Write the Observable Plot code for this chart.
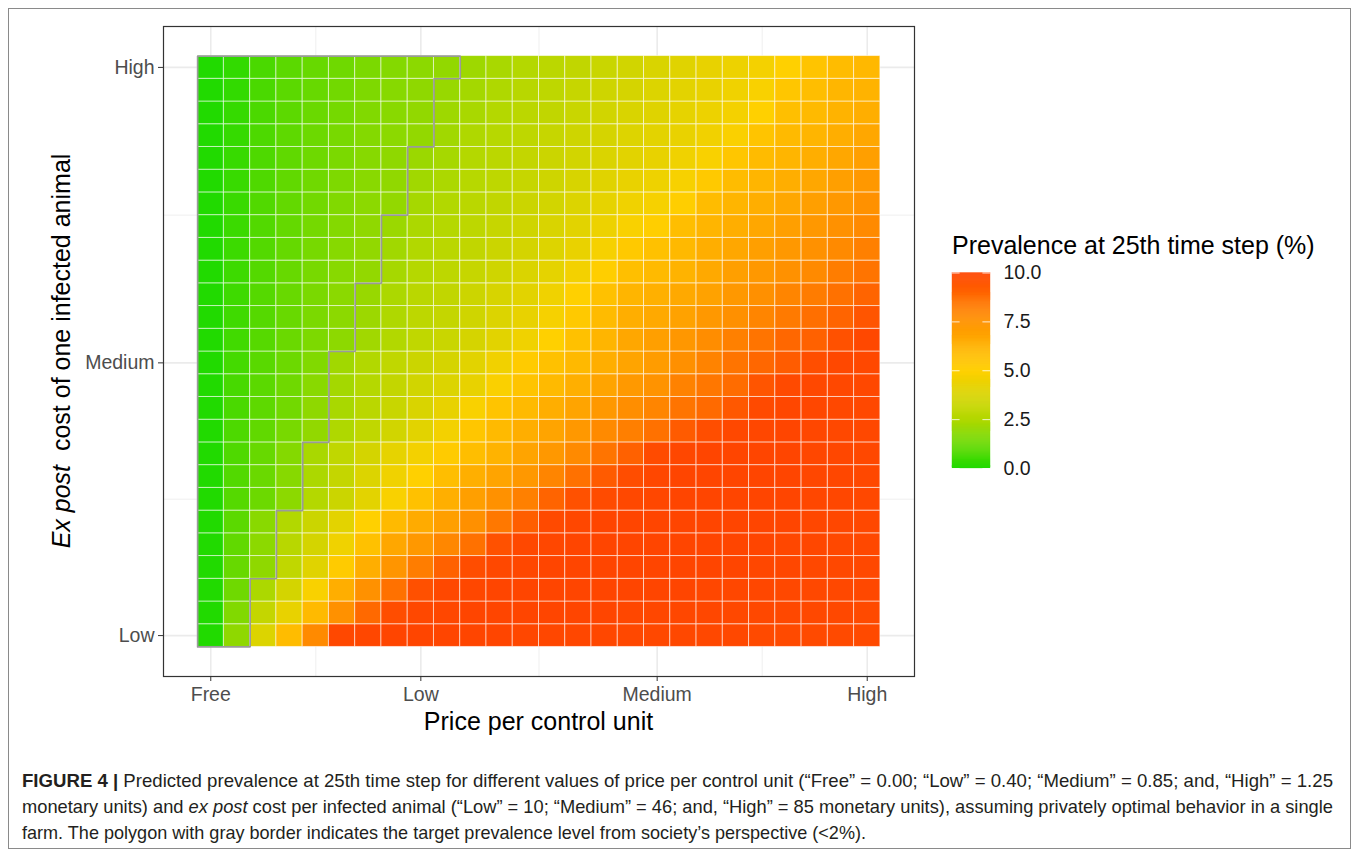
<!DOCTYPE html>
<html>
<head>
<meta charset="utf-8">
<script src="https://cdn.jsdelivr.net/npm/d3@7"></script>
<script src="https://cdn.jsdelivr.net/npm/@observablehq/plot@0.6"></script>
<style>
  html, body { margin: 0; padding: 0; background: #fff; }
  body { width: 1358px; height: 852px; position: relative; overflow: hidden; font-family: "Liberation Sans", Arial, sans-serif; }
  #frame { position: absolute; left: 8px; top: 8px; width: 1343px; height: 841px; border: 1px solid #8a8a8a; box-sizing: border-box; }
  #chart { position: absolute; left: 0; top: 0; }
  #legend { position: absolute; left: 940px; top: 250px; }
  #overlay { position: absolute; left: 0; top: 0; pointer-events: none; }
</style>
</head>
<body>
<div id="frame"></div>
<div id="chart"></div>
<div id="legend"></div>
<svg id="overlay" width="1358" height="852"></svg>
<script>
// ---------------- data ----------------
const prices = [0.00,0.05,0.10,0.15,0.20,0.25,0.30,0.35,0.40,0.45,0.50,0.55,0.60,0.65,0.70,0.75,0.80,0.85,0.90,0.95,1.00,1.05,1.10,1.15,1.20,1.25];
const costs = [10,13,16,19,22,25,28,31,34,37,40,43,46,49,52,55,58,61,64,67,70,73,76,79,82,85];

const xTickValues = [0, 0.40, 0.85, 1.25];
const xTickLabels = ["Free", "Low", "Medium", "High"];
const xMinorValues = [0.20, 0.625, 1.05];
const yTickValues = [10, 46, 85];
const yTickLabels = ["Low", "Medium", "High"];
const yMinorValues = [28, 65.5];

const legendTicks = [0, 2.5, 5, 7.5, 10];

// prevalence (%) at 25th time step; one row per cost (10 ... 85), one value per price (0 ... 1.25)
const prevalence = [
  [0,1.9,3.85,5.8,7.8,9.9,9.95,10,10,10,10,10,9.95,9.95,9.95,9.95,9.9,9.9,9.9,9.9,9.9,9.85,9.85,9.85,9.85,9.85],
  [0,1.65,3.1,4.25,5.9,7.55,8.85,9.75,9.9,9.95,10,10,10,10,10,10,9.95,9.95,9.95,9.95,9.9,9.9,9.9,9.9,9.9,9.85],
  [0,1.35,2.4,3.6,4.8,6.4,7.55,8.6,9.65,9.9,9.95,10,10,10,10,10,10,10,10,9.95,9.95,9.95,9.9,9.9,9.9,9.9],
  [0,1.2,1.9,2.95,4.0,5.2,6.4,7.4,8.2,9.1,9.75,9.9,9.95,10,10,10,10,10,10,10,10,9.95,9.95,9.9,9.9,9.9],
  [0,1.1,1.85,2.7,3.6,4.5,5.6,6.7,7.3,7.9,8.6,9.6,9.9,9.95,10,10,10,10,10,10,10,10,9.95,9.95,9.9,9.9],
  [0,1.0,1.8,2.5,3.3,4.1,5.0,5.9,6.5,7.0,7.6,8.35,9.2,9.85,9.95,10,10,10,10,10,10,10,10,9.95,9.95,9.9],
  [0,0.9,1.3,1.85,2.55,3.3,4.1,4.8,5.6,6.35,7.0,7.55,8.1,9.0,9.6,9.8,9.9,9.95,10,10,10,10,10,9.95,9.95,9.9],
  [0,0.85,1.25,1.75,2.4,3.1,3.85,4.5,5.0,5.75,6.35,6.8,7.3,7.95,8.6,9.3,9.75,9.95,10,10,10,10,10,9.95,9.95,9.9],
  [0,0.8,1.2,1.7,2.35,2.95,3.6,4.2,4.6,5.2,5.75,6.2,6.8,7.3,7.8,8.5,9.1,9.8,9.95,10,10,10,10,9.95,9.95,9.9],
  [0,0.75,1.1,1.5,1.95,2.45,2.95,3.5,4.05,4.6,5.4,5.9,6.4,6.8,7.3,7.8,8.15,8.6,9.3,9.7,9.9,9.95,10,9.95,9.9,9.9],
  [0,0.7,1.05,1.4,1.9,2.35,2.75,3.2,3.75,4.25,4.8,5.5,5.9,6.4,6.8,7.3,7.65,7.95,8.5,8.8,9.4,9.85,9.95,9.95,9.9,9.9],
  [0,0.65,1.0,1.35,1.8,2.25,2.6,3.05,3.5,3.85,4.25,4.85,5.5,5.9,6.35,6.8,7.25,7.5,8.05,8.4,8.75,9.5,9.85,9.9,9.9,9.9],
  [0,0.6,0.97,1.3,1.65,2.2,2.5,2.95,3.3,3.65,4.05,4.55,5.2,5.6,5.95,6.4,6.8,7.15,7.6,8.0,8.5,8.9,9.25,9.7,9.9,9.9],
  [0,0.55,0.92,1.25,1.58,1.87,2.2,2.5,2.95,3.25,3.65,4.05,4.5,5.0,5.6,6.1,6.7,7.0,7.35,7.7,8.1,8.5,8.9,9.1,9.6,9.9],
  [0,0.52,0.9,1.23,1.55,1.84,2.12,2.45,2.85,3.1,3.45,3.85,4.25,4.7,5.3,5.85,6.4,6.6,6.9,7.3,7.6,7.95,8.3,8.65,9.0,9.5],
  [0,0.5,0.9,1.22,1.53,1.82,2.05,2.4,2.75,3.0,3.35,3.7,4.05,4.5,5.0,5.6,6.1,6.3,6.6,6.9,7.3,7.6,7.95,8.25,8.6,9.0],
  [0,0.48,0.88,1.2,1.5,1.78,1.97,2.3,2.6,2.85,3.15,3.45,3.8,4.15,4.6,5.1,5.7,5.9,6.2,6.6,7.0,7.3,7.55,7.8,8.2,8.5],
  [0,0.46,0.86,1.18,1.48,1.75,1.95,2.2,2.5,2.75,3.0,3.3,3.6,3.9,4.3,4.7,5.3,5.6,5.95,6.4,6.7,7.0,7.3,7.55,7.8,8.1],
  [0,0.44,0.84,1.16,1.44,1.7,1.92,2.1,2.4,2.6,2.85,3.15,3.45,3.75,4.05,4.4,4.8,5.1,5.75,6.1,6.4,6.7,7.0,7.3,7.55,7.8],
  [0,0.42,0.82,1.13,1.4,1.65,1.85,1.97,2.3,2.5,2.75,3.0,3.3,3.55,3.85,4.2,4.5,4.7,5.1,5.8,6.1,6.4,6.7,7.0,7.3,7.55],
  [0,0.4,0.8,1.1,1.37,1.6,1.8,1.93,2.2,2.4,2.65,2.9,3.15,3.4,3.7,4.0,4.3,4.45,4.75,5.3,5.8,6.1,6.4,6.7,7.0,7.3],
  [0,0.38,0.77,1.08,1.33,1.55,1.75,1.9,2.1,2.3,2.55,2.8,3.05,3.3,3.55,3.8,4.05,4.25,4.5,4.8,5.4,5.85,6.1,6.4,6.7,7.0],
  [0,0.35,0.75,1.05,1.3,1.5,1.7,1.85,1.97,2.2,2.45,2.65,2.9,3.15,3.4,3.65,3.9,4.1,4.3,4.55,4.85,5.5,5.9,6.1,6.4,6.7],
  [0,0.35,0.72,1.02,1.25,1.45,1.65,1.8,1.95,2.15,2.35,2.55,2.8,3.0,3.25,3.5,3.75,3.95,4.2,4.4,4.65,5.0,5.7,5.9,6.2,6.4],
  [0,0.3,0.7,1.0,1.2,1.4,1.6,1.75,1.9,2.05,2.25,2.45,2.7,2.9,3.15,3.4,3.65,3.85,4.1,4.3,4.5,4.8,5.4,5.75,6.05,6.2],
  [0,0.3,0.7,1.0,1.2,1.35,1.55,1.7,1.85,1.95,2.15,2.35,2.55,2.8,3.0,3.25,3.5,3.75,4.0,4.25,4.4,4.65,5.0,5.5,5.8,6.0]
];

// number of price columns (from "Free") inside the <2% target polygon, per cost row
const targetCols = [2,2,2,3,3,3,4,4,4,5,5,5,5,6,6,6,7,7,7,8,8,8,9,9,9,10];

// ---------------- build ----------------
const cells = [];
costs.forEach((c, i) => prices.forEach((p, j) => cells.push({price: p, cost: c, value: prevalence[i][j]})));

const halfP = (prices[1] - prices[0]) / 2;
const halfC = (costs[1] - costs[0]) / 2;

// polygon outline in data space
const poly = [[prices[0] - halfP, costs[0] - halfC]];
costs.forEach((c, i) => {
  const xe = prices[targetCols[i] - 1] + halfP;
  poly.push([xe, c - halfC]);
  poly.push([xe, c + halfC]);
});
poly.push([prices[0] - halfP, costs[costs.length - 1] + halfC]);
poly.push(poly[0]);

const colorScale = {
  type: "linear",
  domain: [0, 2.5, 5, 7.5, 10],
  range: ["#21da00", "#b2d800", "#ffd000", "#ff9300", "#ff4500"],
  interpolate: "rgb"
};

const xPad = (prices[prices.length - 1] - prices[0] + 2 * halfP) * 0.05;
const yPad = (costs[costs.length - 1] - costs[0] + 2 * halfC) * 0.05;

const chart = Plot.plot({
  width: 940,
  height: 760,
  marginLeft: 163,
  marginRight: 26,
  marginTop: 26,
  marginBottom: 84,
  style: {fontFamily: "'Liberation Sans', Arial, sans-serif", background: "transparent", overflow: "visible"},
  x: {domain: [prices[0] - halfP - xPad, prices[prices.length - 1] + halfP + xPad]},
  y: {domain: [costs[0] - halfC - yPad, costs[costs.length - 1] + halfC + yPad]},
  color: colorScale,
  marks: [
    Plot.ruleX(xMinorValues, {stroke: "#ebebeb", strokeWidth: 0.8}),
    Plot.ruleY(yMinorValues, {stroke: "#ebebeb", strokeWidth: 0.8}),
    Plot.ruleX(xTickValues, {stroke: "#ebebeb", strokeWidth: 1.6}),
    Plot.ruleY(yTickValues, {stroke: "#ebebeb", strokeWidth: 1.6}),
    Plot.rect(cells, {
      x1: d => d.price - halfP, x2: d => d.price + halfP,
      y1: d => d.cost - halfC, y2: d => d.cost + halfC,
      fill: "value", stroke: "white", strokeOpacity: 0.55, strokeWidth: 1
    }),
    Plot.line(poly, {x: d => d[0], y: d => d[1], stroke: "#9a9a9a", strokeWidth: 1.7, strokeLinejoin: "miter"}),
    Plot.frame({stroke: "#333333", strokeWidth: 1.2}),
    Plot.axisX({
      ticks: xTickValues, tickFormat: d => xTickLabels[xTickValues.indexOf(d)],
      tickSize: 5, tickPadding: 6, fontSize: 19.5, fill: "#4d4d4d", stroke: "#333333", label: null
    }),
    Plot.axisY({
      ticks: yTickValues, tickFormat: d => yTickLabels[yTickValues.indexOf(d)],
      tickSize: 5, tickPadding: 4, fontSize: 19.5, fill: "#4d4d4d", stroke: "#333333", label: null
    })
  ]
});
document.getElementById("chart").appendChild(chart);

// ---------------- legend (vertical colour bar) ----------------
const ramp = d3.range(0, 10, 0.05);
const legend = Plot.plot({
  width: 120,
  height: 240,
  marginLeft: 12,
  marginRight: 70,
  marginTop: 22.5,
  marginBottom: 22,
  style: {fontFamily: "'Liberation Sans', Arial, sans-serif", background: "transparent", overflow: "visible"},
  x: {domain: [0, 1], axis: null},
  y: {domain: [0, 10]},
  color: colorScale,
  marks: [
    Plot.rect(ramp, {x1: 0, x2: 1, y1: d => d, y2: d => Math.min(10, d + 0.06), fill: d => d + 0.025, stroke: d => d + 0.025, strokeWidth: 0.3}),
    Plot.ruleY(legendTicks, {x1: 0, x2: 0.2, stroke: "white", strokeOpacity: 0.8, strokeWidth: 1}),
    Plot.ruleY(legendTicks, {x1: 0.8, x2: 1, stroke: "white", strokeOpacity: 0.8, strokeWidth: 1}),
    Plot.axisY({anchor: "right", ticks: legendTicks, tickFormat: d3.format(".1f"), tickSize: 0, tickPadding: 13, fontSize: 19.5, fill: "#1a1a1a", label: null})
  ]
});
document.getElementById("legend").appendChild(legend);

// ---------------- titles & caption ----------------
const svg = d3.select("#overlay");
const font = "'Liberation Sans', Arial, sans-serif";

svg.append("text").attr("x", 538.5).attr("y", 730).attr("text-anchor", "middle")
  .attr("font-family", font).attr("font-size", 25).attr("fill", "#000").text("Price per control unit");

const yt = svg.append("text").attr("transform", "translate(70,351) rotate(-90)").attr("text-anchor", "middle")
  .attr("font-family", font).attr("font-size", 25).attr("fill", "#000");
yt.append("tspan").attr("font-style", "italic").text("Ex post");
yt.append("tspan").attr("xml:space", "preserve").text("\u00a0\u00a0cost of one infected animal");

svg.append("text").attr("x", 952).attr("y", 254).attr("font-family", font).attr("font-size", 25)
  .attr("fill", "#000").text("Prevalence at 25th time step (%)");

const capFont = "'Liberation Sans Narrow', 'Liberation Sans', Arial, sans-serif";
const capLines = [
  {y: 787, len: 1311, parts: [{t: "FIGURE 4 | ", b: true}, {t: "Predicted prevalence at 25th time step for different values of price per control unit (\u201cFree\u201d = 0.00; \u201cLow\u201d = 0.40; \u201cMedium\u201d = 0.85; and, \u201cHigh\u201d = 1.25"}]},
  {y: 813, len: 1311, parts: [{t: "monetary units) and "}, {t: "ex post", i: true}, {t: " cost per infected animal (\u201cLow\u201d = 10; \u201cMedium\u201d = 46; and, \u201cHigh\u201d = 85 monetary units), assuming privately optimal behavior in a single"}]},
  {y: 839, len: 844, parts: [{t: "farm. The polygon with gray border indicates the target prevalence level from society\u2019s perspective (<2%)."}]}
];
capLines.forEach(line => {
  const t = svg.append("text").attr("x", 22).attr("y", line.y).attr("font-family", capFont)
    .attr("font-size", 18.5).attr("fill", "#231f20")
    .attr("textLength", line.len).attr("lengthAdjust", "spacingAndGlyphs")
    .style("white-space", "pre");
  line.parts.forEach(p => {
    const s = t.append("tspan").text(p.t);
    if (p.b) s.attr("font-weight", "bold");
    if (p.i) s.attr("font-style", "italic");
  });
});
</script>
</body>
</html>
